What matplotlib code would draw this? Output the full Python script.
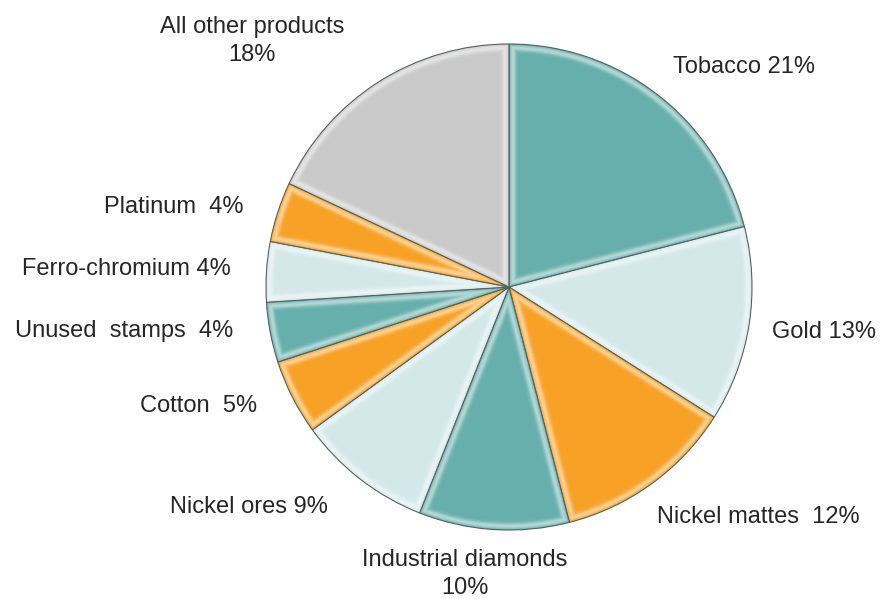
import numpy as np
import matplotlib
matplotlib.use("Agg")
import matplotlib.pyplot as plt
from matplotlib.patches import Polygon
from matplotlib.colors import to_rgb

# export shares by product, clockwise from 12 o'clock
products = ["Tobacco", "Gold", "Nickel mattes", "Industrial diamonds",
            "Nickel ores", "Cotton", "Unused stamps", "Ferro-chromium",
            "Platinum", "All other products"]
shares = [21, 13, 12, 10, 9, 5, 4, 4, 4, 18]
labels = ["Tobacco 21%", "Gold 13%", "Nickel mattes  12%",
          "Industrial diamonds\n10%", "Nickel ores 9%", "Cotton  5%",
          "Unused  stamps  4%", "Ferro-chromium 4%", "Platinum  4%",
          "All other products\n18%"]

TEAL, PALE, ORANGE, GREY = "#67AFAC", "#D4E8EA", "#F8A127", "#C9C9C9"
colors = [TEAL, PALE, ORANGE, TEAL, PALE, ORANGE, TEAL, PALE, ORANGE, GREY]

# label anchor (x, first baseline y in pixels from top) and alignment
label_pos = [(673, 73, "left"), (772, 338, "left"), (657, 523, "left"),
             (465, 566, "center"), (328, 513, "right"), (257, 412, "right"),
             (233, 337, "right"), (231, 275, "right"), (243, 213, "right"),
             (252, 33, "center")]
LINE_STEP = 28

W, H = 882, 599
CX, CY, R = 509, H - 287, 243

plt.rcParams["font.family"] = ["Liberation Sans", "DejaVu Sans"]
fig = plt.figure(figsize=(W / 100, H / 100), dpi=100)
ax = fig.add_axes([0, 0, 1, 1])

wedges, _ = ax.pie(shares, colors=colors, startangle=90, counterclock=False,
                   center=(CX, CY), radius=R,
                   wedgeprops=dict(edgecolor="#56605f", linewidth=0.8))
ax.set_xlim(0, W)
ax.set_ylim(0, H)
ax.set_aspect("equal")
ax.axis("off")


def inset_wedge(th1, th2, d, n=80):
    """Polygon of a wedge (degrees, ccw th1->th2) shrunk inward by d pixels."""
    a1, a2 = np.radians(th1), np.radians(th2)
    half = (a2 - a1) / 2
    rr = R - d
    t = np.sqrt(max(rr ** 2 - d ** 2, 0))
    da = np.arctan2(d, t)
    apex_r = d / np.sin(half)
    mid = (a1 + a2) / 2
    apex = (CX + apex_r * np.cos(mid), CY + apex_r * np.sin(mid))
    arc = np.linspace(a1 + da, a2 - da, n)
    return [apex] + [(CX + rr * np.cos(a), CY + rr * np.sin(a)) for a in arc]


# soft bevel: a lighter rim just inside each slice's border
for w, c in zip(wedges, colors):
    base = np.array(to_rgb(c))
    for d in np.arange(1.0, 13.0, 1.0):
        f = 0.5 * np.exp(-((d - 3.5) / 3.0) ** 2) if d <= 10 else 0.0
        col = base + (1 - base) * f
        ax.add_patch(Polygon(inset_wedge(w.theta1, w.theta2, d), closed=True,
                             facecolor=col, edgecolor="none", zorder=2))

for text, (x, y, ha) in zip(labels, label_pos):
    for i, line in enumerate(text.split("\n")):
        ax.text(x, H - y - i * LINE_STEP, line, ha=ha, va="baseline",
                fontsize=17, color="#262626")

fig.savefig("out.png", dpi=100, facecolor="white")
